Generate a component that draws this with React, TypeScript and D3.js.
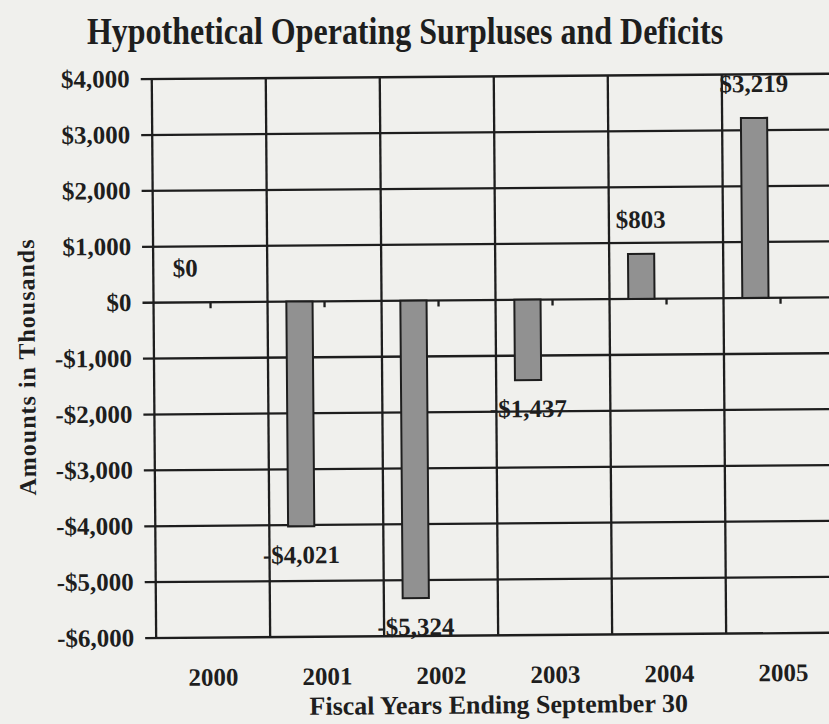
import React from "react";
import * as d3 from "d3";

// Fiscal years and operating results (in thousands of dollars)
const years = ["2000", "2001", "2002", "2003", "2004", "2005"];
const results = [0, -4021, -5324, -1437, 803, 3219];
const yTicks = [4000, 3000, 2000, 1000, 0, -1000, -2000, -3000, -4000, -5000, -6000];

const chartTitle = "Hypothetical Operating Surpluses and Deficits";
const xTitle = "Fiscal Years Ending September 30";
const yTitle = "Amounts in Thousands";

const W = 829;
const H = 724;
const plotLeft = 154;
const bandW = 114;
const plotTop = 77;
const plotBottom = 636;

const FONT = "'Liberation Serif', 'Times New Roman', serif";
const INK = "#1e1e1e";
const LINE_W = 2.3;

const money = (v: number) => (v < 0 ? "-$" : "$") + d3.format(",")(Math.abs(v));

export default function App() {
  const x = d3
    .scaleBand<string>()
    .domain(years)
    .range([plotLeft, plotLeft + bandW * years.length])
    .padding(0);
  const y = d3.scaleLinear().domain([-6000, 4000]).range([plotBottom, plotTop]);
  const bw = x.bandwidth();
  const barOffset = bw * 0.165;
  const barWidth = bw * 0.23;
  const zeroY = y(0);
  const [xMin, xMax] = x.range();

  const bounds = years.map((yr) => x(yr) as number).concat([xMax]);

  return (
    <svg
      width={W}
      height={H}
      style={{ position: "absolute", left: 0, top: 0, background: "#f0f0ed" }}
      fontFamily={FONT}
      fontWeight="bold"
    >
      <rect x={0} y={0} width={W} height={H} fill="#f0f0ed" />

      {/* tall, tight title lettering */}
      <text transform="translate(405, 44) scale(1, 1.2)" textAnchor="middle" fontSize={32} fill={INK}>
        {chartTitle}
      </text>

      {/* the printed page sits very slightly askew */}
      <g transform="rotate(-0.45, 414, 362)">
        {/* horizontal grid with y-axis ticks */}
        {yTicks.map((t) => (
          <g key={"h" + t}>
            <line
              x1={xMin - 11}
              x2={xMax}
              y1={y(t)}
              y2={y(t)}
              stroke={INK}
              strokeWidth={LINE_W}
            />
            <text x={132} y={y(t) + 8} textAnchor="end" fontSize={25} fill={INK}>
              {money(t)}
            </text>
          </g>
        ))}

        {/* vertical grid at category boundaries */}
        {bounds.map((bx, i) => (
          <line
            key={"v" + i}
            x1={bx}
            x2={bx}
            y1={y(4000)}
            y2={y(-6000)}
            stroke={INK}
            strokeWidth={LINE_W}
          />
        ))}

        {/* category ticks on the zero line */}
        {years.map((yr) => (
          <line
            key={"t" + yr}
            x1={(x(yr) as number) + bw / 2}
            x2={(x(yr) as number) + bw / 2}
            y1={zeroY}
            y2={zeroY + 6}
            stroke={INK}
            strokeWidth={LINE_W}
          />
        ))}

        {/* bars */}
        {years.map((yr, i) => {
          const v = results[i];
          const bx = (x(yr) as number) + barOffset;
          const top = Math.min(y(v), zeroY);
          const h = Math.abs(y(v) - zeroY);
          return h > 0 ? (
            <rect
              key={"b" + yr}
              x={bx}
              y={top}
              width={barWidth}
              height={h}
              fill="#919191"
              stroke={INK}
              strokeWidth={2}
            />
          ) : null;
        })}

        {/* value labels */}
        {years.map((yr, i) => {
          const v = results[i];
          const cx = (x(yr) as number) + barOffset + barWidth / 2;
          const ly = v >= 0 ? y(v) - 26 : y(v) + 37;
          return (
            <text key={"l" + yr} x={cx} y={ly} textAnchor="middle" fontSize={25} fill={INK}>
              {money(v)}
            </text>
          );
        })}

        {/* category labels */}
        {years.map((yr) => (
          <text
            key={"c" + yr}
            x={(x(yr) as number) + bw / 2}
            y={684}
            textAnchor="middle"
            fontSize={25}
            fill={INK}
          >
            {yr}
          </text>
        ))}

        <text x={(xMin + xMax) / 2} y={714} textAnchor="middle" fontSize={26} fill={INK}>
          {xTitle}
        </text>

        <text
          transform={`translate(35, 364) rotate(-90)`}
          textAnchor="middle"
          fontSize={24}
          fill={INK}
          letterSpacing={1}
        >
          {yTitle}
        </text>
      </g>
    </svg>
  );
}
